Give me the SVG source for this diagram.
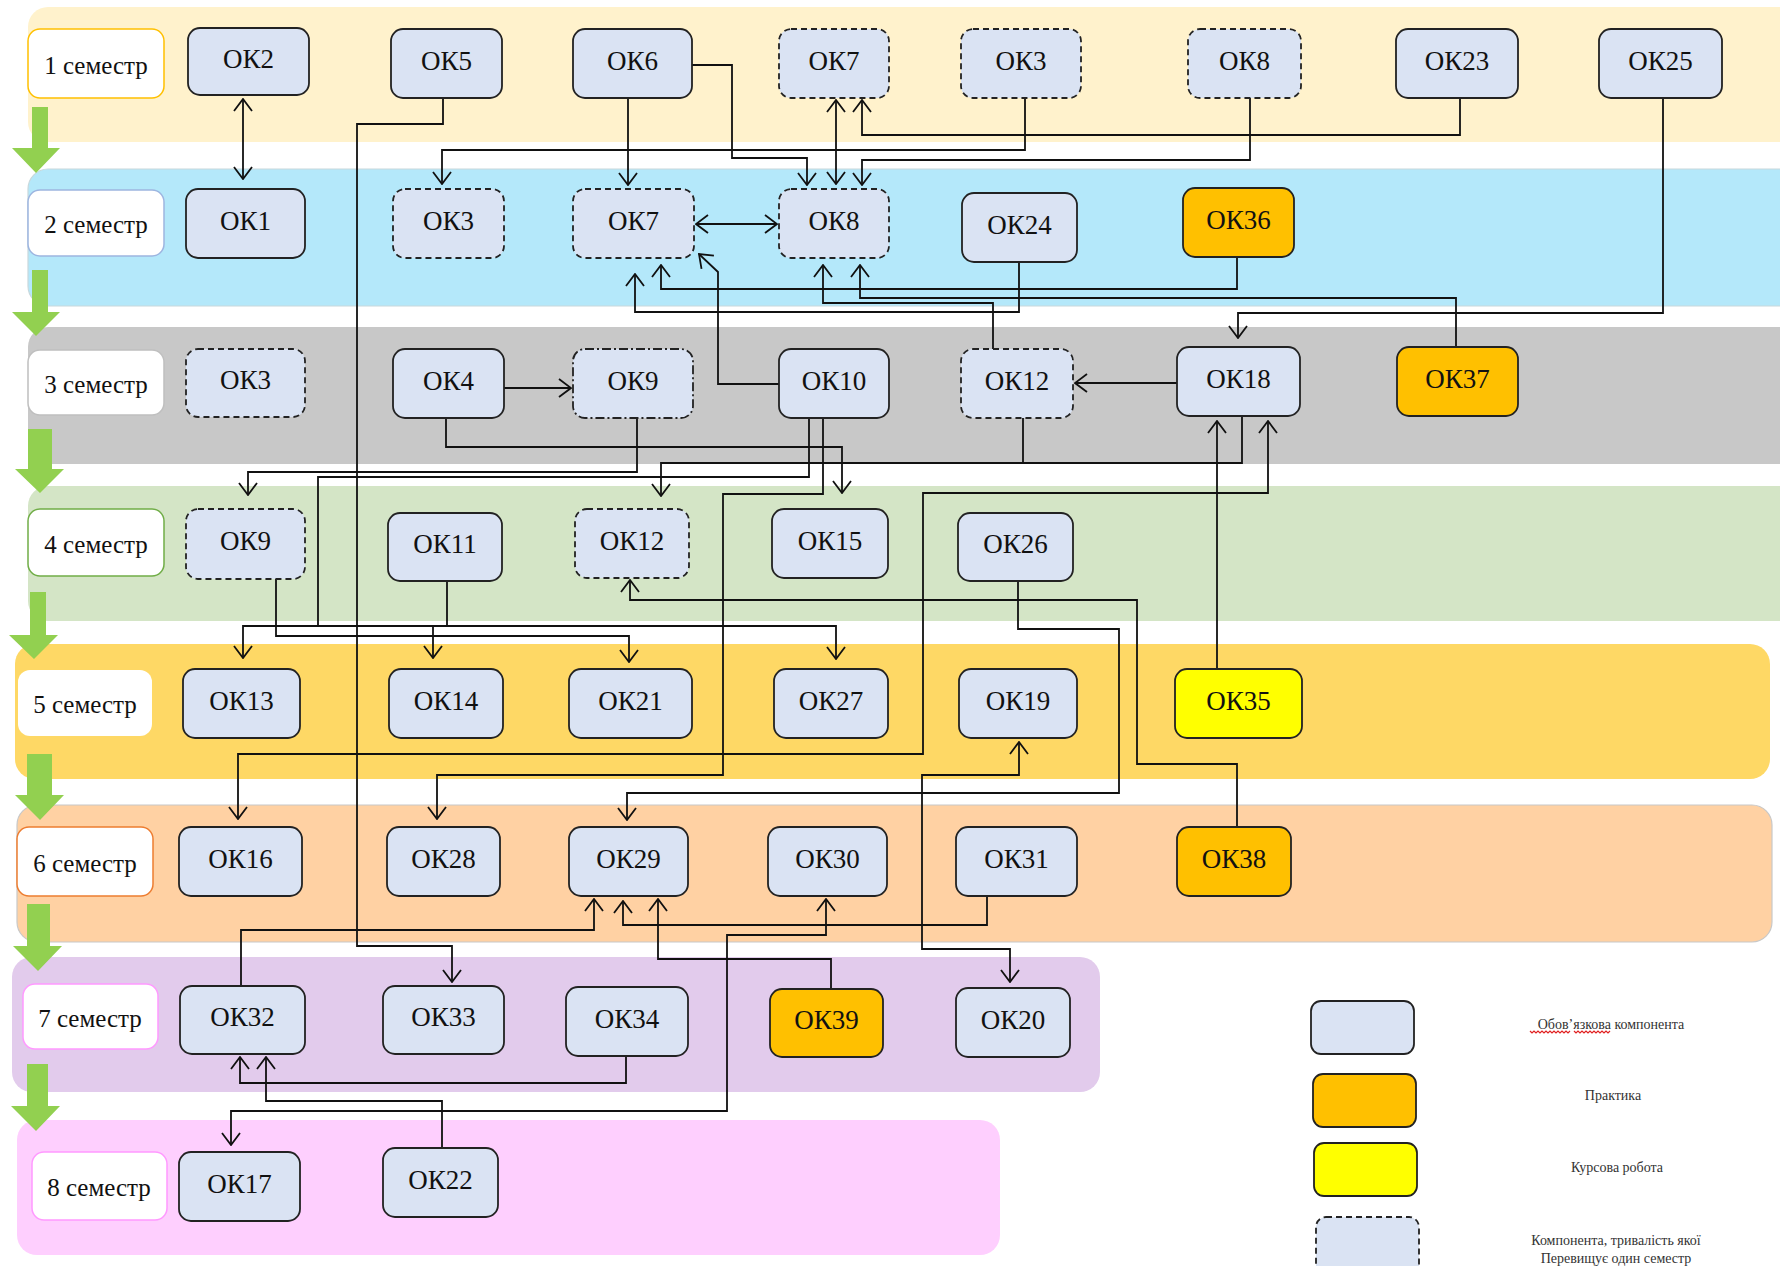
<svg xmlns="http://www.w3.org/2000/svg" width="1780" height="1266" viewBox="0 0 1780 1266">
<defs>
<marker id="ah" viewBox="0 0 14 20" refX="13" refY="10" markerWidth="14" markerHeight="20" markerUnits="userSpaceOnUse" orient="auto-start-reverse"><path d="M1,1 L13,10 L1,19" fill="none" stroke="#111" stroke-width="1.8"/></marker>
</defs>
<style>
.lbl{fill:#fff;stroke-width:1.5}
.lt{font-family:"Liberation Serif","Times New Roman",serif;font-size:25px;fill:#111;text-anchor:middle}
.n rect{fill:#DAE3F3;stroke:#222;stroke-width:1.8}
.n.d rect{stroke-dasharray:6 4}
.n.dd rect{stroke-dasharray:9 3 2 3}
.n.o rect{fill:#FFC000}
.n.y rect{fill:#FFFF00}
.n text{font-family:"Liberation Serif","Times New Roman",serif;font-size:27px;fill:#111;text-anchor:middle}
.c path{fill:none;stroke:#111;stroke-width:1.8}
.c .a{marker-end:url(#ah)}
.c .b{marker-start:url(#ah);marker-end:url(#ah)}
.g{fill:#92D050}
.leg{font-family:"Liberation Serif","Times New Roman",serif;font-size:14px;fill:#333;text-anchor:middle}
.lb rect{stroke:#222;stroke-width:1.8}
</style>
<rect width="1780" height="1266" fill="#fff"/>
<g id="bands">
<rect x="28" y="7" width="1772" height="135" rx="20" fill="#FFF2CC"/>
<rect x="28" y="169" width="1772" height="137" rx="20" fill="#B4E8FA" stroke="#c8d8dc" stroke-width="1.2"/>
<rect x="28" y="327" width="1772" height="137" rx="20" fill="#C8C8C8"/>
<rect x="28" y="486" width="1772" height="135" rx="20" fill="#D4E5C6"/>
<rect x="15" y="644" width="1755" height="135" rx="20" fill="#FED865"/>
<rect x="17" y="805" width="1755" height="137" rx="20" fill="#FFD1A3" stroke="#c8c8c8" stroke-width="1.2"/>
<rect x="12" y="957" width="1088" height="135" rx="20" fill="#E2CBEC"/>
<rect x="17" y="1120" width="983" height="135" rx="20" fill="#FECFFE"/>
</g>
<g id="green-arrows">
<polygon class="g" points="32,107 48,107 48,148 60,148 36,173 12,148 32,148"/>
<polygon class="g" points="32,270 48,270 48,312 60,312 36,336 12,312 32,312"/>
<polygon class="g" points="28,429 52,429 52,469 64,469 40,493 15,469 28,469"/>
<polygon class="g" points="30,592 46,592 46,635 58,635 34,659 9,635 30,635"/>
<polygon class="g" points="27,754 52,754 52,795 64,795 40,820 15,795 27,795"/>
<polygon class="g" points="27,904 50,904 50,946 62,946 38,971 13,946 27,946"/>
<polygon class="g" points="27,1064 48,1064 48,1106 60,1106 36,1131 11,1106 27,1106"/>
</g>
<g id="semester-labels">
<g id="sem1"><rect class="lbl" x="28" y="29" width="136" height="69" rx="12" stroke="#FFC000"/><text class="lt" x="96" y="74">1 семестр</text></g>
<g id="sem2"><rect class="lbl" x="28" y="190" width="136" height="66" rx="12" stroke="#9DB5E0"/><text class="lt" x="96" y="233">2 семестр</text></g>
<g id="sem3"><rect class="lbl" x="28" y="350" width="136" height="65" rx="12" stroke="#BFBFBF"/><text class="lt" x="96" y="393">3 семестр</text></g>
<g id="sem4"><rect class="lbl" x="28" y="509" width="136" height="67" rx="12" stroke="#70AD47"/><text class="lt" x="96" y="553">4 семестр</text></g>
<g id="sem5"><rect class="lbl" x="18" y="670" width="134" height="66" rx="12" stroke="none"/><text class="lt" x="85" y="713">5 семестр</text></g>
<g id="sem6"><rect class="lbl" x="17" y="827" width="136" height="69" rx="12" stroke="#ED7D31"/><text class="lt" x="85" y="872">6 семестр</text></g>
<g id="sem7"><rect class="lbl" x="23" y="984" width="135" height="65" rx="12" stroke="#FF99FF"/><text class="lt" x="90" y="1027">7 семестр</text></g>
<g id="sem8"><rect class="lbl" x="32" y="1152" width="135" height="68" rx="12" stroke="#FF99FF"/><text class="lt" x="99" y="1196">8 семестр</text></g>
</g>
<g id="connectors" class="c">
<path class="b" d="M243,99 V179"/>
<path class="a" d="M443,98 V124 H357 V946 H452 V982"/>
<path class="a" d="M628,98 V185"/>
<path class="a" d="M683,65 H732 V158 H807 V185"/>
<path class="b" d="M836,100 V184"/>
<path class="a" d="M1460,98 V135 H862 V100"/>
<path class="a" d="M1025,98 V150 H442 V184"/>
<path class="a" d="M1250,98 V160 H862 V185"/>
<path class="b" d="M696,224 H777"/>
<path class="a" d="M779,384 H718 V272 L699,254"/>
<path class="a" d="M1019,262 V312 H635 V274"/>
<path class="a" d="M1237,257 V289 H661 V265"/>
<path class="a" d="M1456,347 V298 H860 V265"/>
<path class="a" d="M993,349 V303 H823 V265"/>
<path class="a" d="M1663,98 V313 H1238 V338"/>
<path class="a" d="M1177,383 H1075"/>
<path class="a" d="M504,388 H571"/>
<path class="a" d="M446,418 V447 H842 V493"/>
<path class="a" d="M637,418 V472 H248 V495"/>
<path d="M809,418 V477 H318 V626"/>
<path class="a" d="M447,581 V626 H243 V658"/>
<path class="a" d="M447,626 H836 V659"/>
<path class="a" d="M433,626 V658"/>
<path class="a" d="M276,579 V636 H629 V662"/>
<path class="a" d="M1242,416 V463 H661 V496"/>
<path d="M1023,418 V463"/>
<path class="a" d="M823,418 V494 H723 V775 H437 V819"/>
<path class="b" d="M238,819 V754 H923 V493 H1268 V421"/>
<path class="a" d="M1217,669 V421"/>
<path class="a" d="M1237,827 V764 H1137 V600 H630 V580"/>
<path class="a" d="M1018,581 V629 H1119 V793 H627 V820"/>
<path class="b" d="M1019,742 V775 H922 V949 H1010 V982"/>
<path class="a" d="M241,986 V930 H594 V899"/>
<path class="a" d="M987,896 V925 H623 V901"/>
<path class="a" d="M831,989 V959 H658 V899"/>
<path class="b" d="M826,899 V935 H727 V1111 H231 V1145"/>
<path class="a" d="M626,1056 V1083 H240 V1057"/>
<path class="a" d="M442,1149 V1101 H266 V1057"/>
</g>
<g id="nodes">
<g id="s1-ok2" class="n"><rect x="188" y="28" width="121" height="67" rx="12"/><text x="248.5" y="67.5">ОК2</text></g>
<g id="s1-ok5" class="n"><rect x="391" y="29" width="111" height="69" rx="12"/><text x="446.5" y="69.5">ОК5</text></g>
<g id="s1-ok6" class="n"><rect x="573" y="29" width="119" height="69" rx="12"/><text x="632.5" y="69.5">ОК6</text></g>
<g id="s1-ok7" class="n d"><rect x="779" y="29" width="110" height="69" rx="12"/><text x="834" y="69.5">ОК7</text></g>
<g id="s1-ok3" class="n d"><rect x="961" y="29" width="120" height="69" rx="12"/><text x="1021" y="69.5">ОК3</text></g>
<g id="s1-ok8" class="n d"><rect x="1188" y="29" width="113" height="69" rx="12"/><text x="1244.5" y="69.5">ОК8</text></g>
<g id="s1-ok23" class="n"><rect x="1396" y="29" width="122" height="69" rx="12"/><text x="1457" y="69.5">ОК23</text></g>
<g id="s1-ok25" class="n"><rect x="1599" y="29" width="123" height="69" rx="12"/><text x="1660.5" y="69.5">ОК25</text></g>

<g id="s2-ok1" class="n"><rect x="186" y="189" width="119" height="69" rx="12"/><text x="245.5" y="229.5">ОК1</text></g>
<g id="s2-ok3" class="n d"><rect x="393" y="189" width="111" height="69" rx="12"/><text x="448.5" y="229.5">ОК3</text></g>
<g id="s2-ok7" class="n d"><rect x="573" y="189" width="121" height="69" rx="12"/><text x="633.5" y="229.5">ОК7</text></g>
<g id="s2-ok8" class="n d"><rect x="779" y="189" width="110" height="69" rx="12"/><text x="834" y="229.5">ОК8</text></g>
<g id="s2-ok24" class="n"><rect x="962" y="193" width="115" height="69" rx="12"/><text x="1019.5" y="233.5">ОК24</text></g>
<g id="s2-ok36" class="n o"><rect x="1183" y="188" width="111" height="69" rx="12"/><text x="1238.5" y="228.5">ОК36</text></g>

<g id="s3-ok3" class="n d"><rect x="186" y="349" width="119" height="68" rx="12"/><text x="245.5" y="389">ОК3</text></g>
<g id="s3-ok4" class="n"><rect x="393" y="349" width="111" height="69" rx="12"/><text x="448.5" y="389.5">ОК4</text></g>
<g id="s3-ok9" class="n dd"><rect x="573" y="349" width="120" height="69" rx="12"/><text x="633" y="389.5">ОК9</text></g>
<g id="s3-ok10" class="n"><rect x="779" y="349" width="110" height="69" rx="12"/><text x="834" y="389.5">ОК10</text></g>
<g id="s3-ok12" class="n d"><rect x="961" y="349" width="112" height="69" rx="12"/><text x="1017" y="389.5">ОК12</text></g>
<g id="s3-ok18" class="n"><rect x="1177" y="347" width="123" height="69" rx="12"/><text x="1238.5" y="387.5">ОК18</text></g>
<g id="s3-ok37" class="n o"><rect x="1397" y="347" width="121" height="69" rx="12"/><text x="1457.5" y="387.5">ОК37</text></g>

<g id="s4-ok9" class="n d"><rect x="186" y="509" width="119" height="70" rx="12"/><text x="245.5" y="550">ОК9</text></g>
<g id="s4-ok11" class="n"><rect x="388" y="513" width="114" height="68" rx="12"/><text x="445" y="553">ОК11</text></g>
<g id="s4-ok12" class="n d"><rect x="575" y="509" width="114" height="69" rx="12"/><text x="632" y="549.5">ОК12</text></g>
<g id="s4-ok15" class="n"><rect x="772" y="509" width="116" height="69" rx="12"/><text x="830" y="549.5">ОК15</text></g>
<g id="s4-ok26" class="n"><rect x="958" y="513" width="115" height="68" rx="12"/><text x="1015.5" y="553">ОК26</text></g>

<g id="s5-ok13" class="n"><rect x="183" y="669" width="117" height="69" rx="12"/><text x="241.5" y="709.5">ОК13</text></g>
<g id="s5-ok14" class="n"><rect x="389" y="669" width="114" height="69" rx="12"/><text x="446" y="709.5">ОК14</text></g>
<g id="s5-ok21" class="n"><rect x="569" y="669" width="123" height="69" rx="12"/><text x="630.5" y="709.5">ОК21</text></g>
<g id="s5-ok27" class="n"><rect x="774" y="669" width="114" height="69" rx="12"/><text x="831" y="709.5">ОК27</text></g>
<g id="s5-ok19" class="n"><rect x="959" y="669" width="118" height="69" rx="12"/><text x="1018" y="709.5">ОК19</text></g>
<g id="s5-ok35" class="n y"><rect x="1175" y="669" width="127" height="69" rx="12"/><text x="1238.5" y="709.5">ОК35</text></g>

<g id="s6-ok16" class="n"><rect x="179" y="827" width="123" height="69" rx="12"/><text x="240.5" y="867.5">ОК16</text></g>
<g id="s6-ok28" class="n"><rect x="387" y="827" width="113" height="69" rx="12"/><text x="443.5" y="867.5">ОК28</text></g>
<g id="s6-ok29" class="n"><rect x="569" y="827" width="119" height="69" rx="12"/><text x="628.5" y="867.5">ОК29</text></g>
<g id="s6-ok30" class="n"><rect x="768" y="827" width="119" height="69" rx="12"/><text x="827.5" y="867.5">ОК30</text></g>
<g id="s6-ok31" class="n"><rect x="956" y="827" width="121" height="69" rx="12"/><text x="1016.5" y="867.5">ОК31</text></g>
<g id="s6-ok38" class="n o"><rect x="1177" y="827" width="114" height="69" rx="12"/><text x="1234" y="867.5">ОК38</text></g>

<g id="s7-ok32" class="n"><rect x="180" y="986" width="125" height="68" rx="12"/><text x="242.5" y="1026">ОК32</text></g>
<g id="s7-ok33" class="n"><rect x="383" y="986" width="121" height="68" rx="12"/><text x="443.5" y="1026">ОК33</text></g>
<g id="s7-ok34" class="n"><rect x="566" y="987" width="122" height="69" rx="12"/><text x="627" y="1027.5">ОК34</text></g>
<g id="s7-ok39" class="n o"><rect x="770" y="989" width="113" height="68" rx="12"/><text x="826.5" y="1029">ОК39</text></g>
<g id="s7-ok20" class="n"><rect x="956" y="988" width="114" height="69" rx="12"/><text x="1013" y="1028.5">ОК20</text></g>

<g id="s8-ok17" class="n"><rect x="179" y="1152" width="121" height="69" rx="12"/><text x="239.5" y="1192.5">ОК17</text></g>
<g id="s8-ok22" class="n"><rect x="383" y="1148" width="115" height="69" rx="12"/><text x="440.5" y="1188.5">ОК22</text></g>
</g>
<g id="legend">
<g class="lb"><rect x="1311" y="1001" width="103" height="53" rx="10" fill="#DAE3F3"/></g>
<g class="lb"><rect x="1313" y="1074" width="103" height="53" rx="10" fill="#FFC000"/></g>
<g class="lb"><rect x="1314" y="1143" width="103" height="53" rx="10" fill="#FFFF00"/></g>
<g class="lb"><rect x="1316" y="1217" width="103" height="62" rx="10" fill="#DAE3F3" stroke-dasharray="6 4"/></g>
<text class="leg" x="1611" y="1029">Обов’язкова компонента</text>
<path d="M1530,1031 l2,2 l2,-2 l2,2 l2,-2 l2,2 l2,-2 l2,2 l2,-2 l2,2 l2,-2 l2,2 l2,-2 l2,2 l2,-2 l2,2 l2,-2 l2,2 l2,-2 l2,2 l2,-2 m4,0 l2,2 l2,-2 l2,2 l2,-2 l2,2 l2,-2 l2,2 l2,-2 l2,2 l2,-2 l2,2 l2,-2 l2,2 l2,-2 l2,2 l2,-2 l2,2 l2,-2" fill="none" stroke="#E02020" stroke-width="1.2"/>
<text class="leg" x="1613" y="1100">Практика</text>
<text class="leg" x="1617" y="1172">Курсова робота</text>
<text class="leg" x="1616" y="1245">Компонента, тривалість якої</text>
<text class="leg" x="1616" y="1263">Перевищує один семестр</text>
</g>
</svg>
